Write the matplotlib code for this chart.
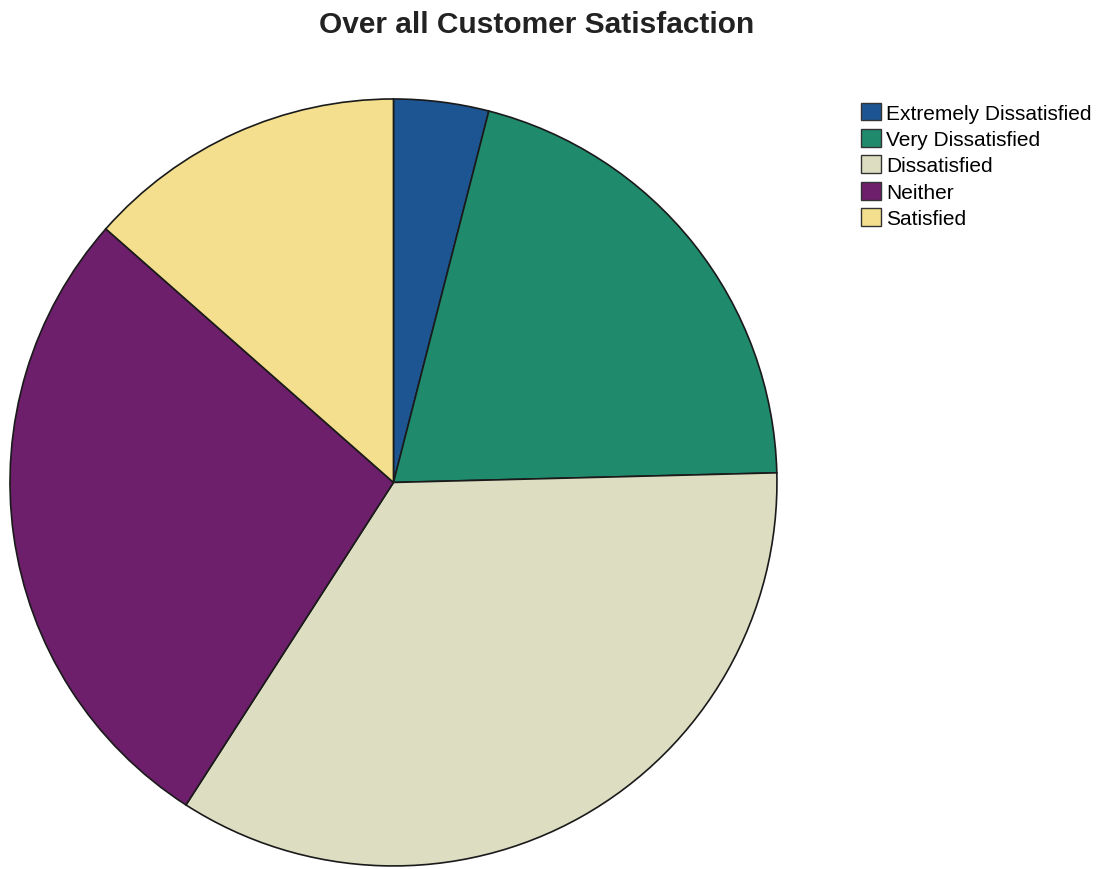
import matplotlib.pyplot as plt
from matplotlib.patches import Patch

labels = ['Extremely Dissatisfied', 'Very Dissatisfied', 'Dissatisfied', 'Neither', 'Satisfied']
shares = [4.0, 20.6, 34.5, 27.4, 13.5]
colors = ['#1d5592', '#1f8a6c', '#ddddc2', '#6e1f6c', '#f3df8e']

plt.rcParams['font.family'] = ['Liberation Sans', 'DejaVu Sans']

fig = plt.figure(figsize=(10.98, 8.7), dpi=100)
ax = fig.add_axes([0.0091, 0.0035, 0.6985, 0.8816])
ax.pie(shares, colors=colors, startangle=90, counterclock=False, radius=1,
       wedgeprops={'edgecolor': '#1a1a1a', 'linewidth': 1.2})
ax.set_xlim(-1, 1)
ax.set_ylim(-1, 1)
ax.set_aspect('equal')
ax.axis('off')

fig.text(0.489, 0.971, 'Over all Customer Satisfaction', ha='center', va='center',
         fontsize=21.5, fontweight='bold', color='#222222')

handles = [Patch(facecolor=c, edgecolor='#333333', label=l) for c, l in zip(colors, labels)]
fig.legend(handles=handles, loc='upper left', bbox_to_anchor=(0.784, 0.881),
           frameon=False, fontsize=15, handlelength=0.95, handleheight=0.95,
           handletextpad=0.28, labelspacing=0.3, borderpad=0, borderaxespad=0)

fig.savefig('out.png', dpi=100)
